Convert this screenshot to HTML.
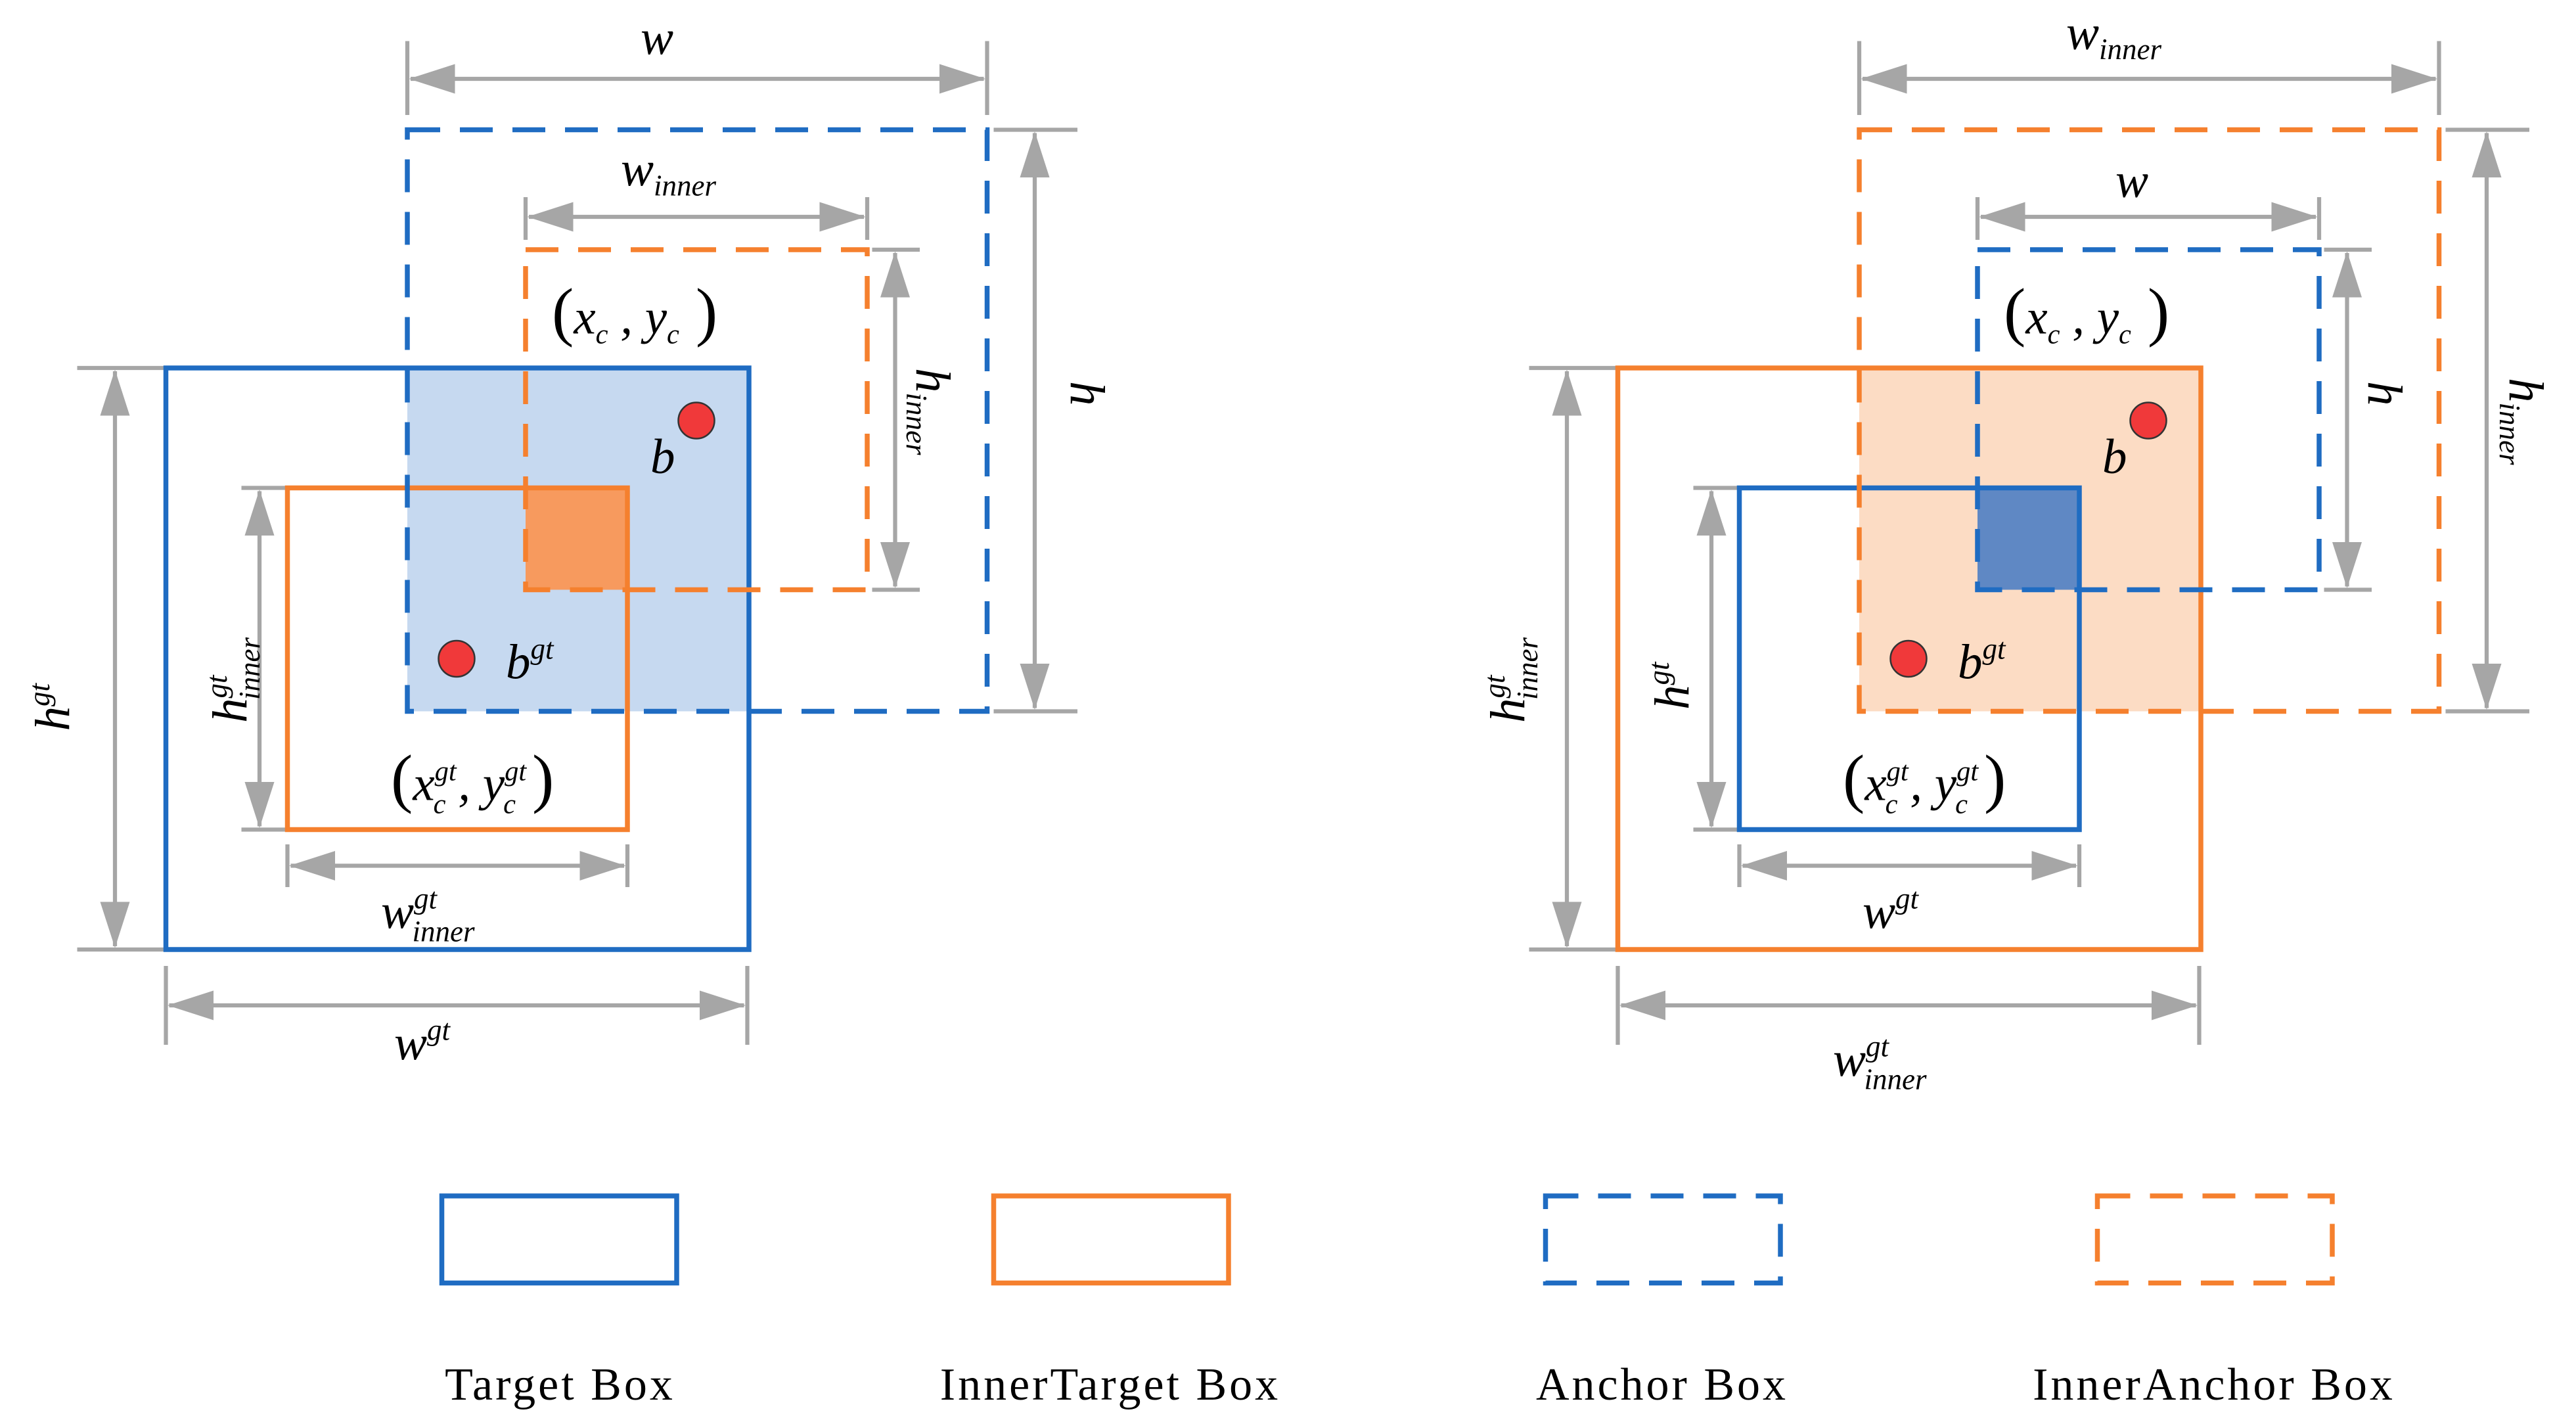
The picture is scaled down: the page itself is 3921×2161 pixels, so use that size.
<!DOCTYPE html>
<html><head><meta charset="utf-8"><style>
html,body{margin:0;padding:0;background:#fff;}
svg{display:block;}
text{font-family:"Liberation Serif",serif;font-style:italic;fill:#000;}
.lg{font-style:normal;font-size:28px;letter-spacing:1.6px;}
</style></head><body>
<svg width="3921" height="2161" viewBox="0 0 1568.4 864.4" xmlns="http://www.w3.org/2000/svg">
<defs>
<marker id="ah" markerUnits="userSpaceOnUse" markerWidth="30" markerHeight="20" refX="27" refY="9" orient="auto-start-reverse"><path d="M0,0 L28,9 L0,18 Z" fill="#a6a6a6"/></marker>
</defs>
<g fill="none" stroke="#a6a6a6" stroke-width="2.5">
<line x1="248" y1="25" x2="248" y2="70"/><line x1="601" y1="25" x2="601" y2="70"/>
<line x1="250" y1="48" x2="599" y2="48" marker-start="url(#ah)" marker-end="url(#ah)"/>
<line x1="320" y1="120" x2="320" y2="146"/><line x1="528" y1="120" x2="528" y2="146"/>
<line x1="322" y1="132" x2="526" y2="132" marker-start="url(#ah)" marker-end="url(#ah)"/>
<line x1="605" y1="79" x2="656" y2="79"/><line x1="605" y1="433" x2="656" y2="433"/>
<line x1="630" y1="81" x2="630" y2="431" marker-start="url(#ah)" marker-end="url(#ah)"/>
<line x1="531" y1="152" x2="560" y2="152"/><line x1="531" y1="359" x2="560" y2="359"/>
<line x1="545" y1="154" x2="545" y2="357" marker-start="url(#ah)" marker-end="url(#ah)"/>
<line x1="47" y1="224" x2="100" y2="224"/><line x1="47" y1="578" x2="100" y2="578"/>
<line x1="70" y1="226" x2="70" y2="576" marker-start="url(#ah)" marker-end="url(#ah)"/>
<line x1="147" y1="297" x2="175" y2="297"/><line x1="147" y1="505" x2="175" y2="505"/>
<line x1="158" y1="299" x2="158" y2="503" marker-start="url(#ah)" marker-end="url(#ah)"/>
<line x1="175" y1="514" x2="175" y2="540"/><line x1="382" y1="514" x2="382" y2="540"/>
<line x1="177" y1="527" x2="380" y2="527" marker-start="url(#ah)" marker-end="url(#ah)"/>
<line x1="101" y1="588" x2="101" y2="636"/><line x1="455" y1="588" x2="455" y2="636"/>
<line x1="103" y1="612" x2="453" y2="612" marker-start="url(#ah)" marker-end="url(#ah)"/>

<line x1="1132" y1="25" x2="1132" y2="70"/><line x1="1485" y1="25" x2="1485" y2="70"/>
<line x1="1134" y1="48" x2="1483" y2="48" marker-start="url(#ah)" marker-end="url(#ah)"/>
<line x1="1204" y1="120" x2="1204" y2="146"/><line x1="1412" y1="120" x2="1412" y2="146"/>
<line x1="1206" y1="132" x2="1410" y2="132" marker-start="url(#ah)" marker-end="url(#ah)"/>
<line x1="1489" y1="79" x2="1540" y2="79"/><line x1="1489" y1="433" x2="1540" y2="433"/>
<line x1="1514" y1="81" x2="1514" y2="431" marker-start="url(#ah)" marker-end="url(#ah)"/>
<line x1="1415" y1="152" x2="1444" y2="152"/><line x1="1415" y1="359" x2="1444" y2="359"/>
<line x1="1429" y1="154" x2="1429" y2="357" marker-start="url(#ah)" marker-end="url(#ah)"/>
<line x1="931" y1="224" x2="984" y2="224"/><line x1="931" y1="578" x2="984" y2="578"/>
<line x1="954" y1="226" x2="954" y2="576" marker-start="url(#ah)" marker-end="url(#ah)"/>
<line x1="1031" y1="297" x2="1059" y2="297"/><line x1="1031" y1="505" x2="1059" y2="505"/>
<line x1="1042" y1="299" x2="1042" y2="503" marker-start="url(#ah)" marker-end="url(#ah)"/>
<line x1="1059" y1="514" x2="1059" y2="540"/><line x1="1266" y1="514" x2="1266" y2="540"/>
<line x1="1061" y1="527" x2="1264" y2="527" marker-start="url(#ah)" marker-end="url(#ah)"/>
<line x1="985" y1="588" x2="985" y2="636"/><line x1="1339" y1="588" x2="1339" y2="636"/>
<line x1="987" y1="612" x2="1337" y2="612" marker-start="url(#ah)" marker-end="url(#ah)"/>
</g>

<rect x="248" y="224" width="208" height="209" fill="#c6d9f0"/>
<rect x="320" y="297" width="62" height="62" fill="#f79a5e"/>
<rect x="101" y="224" width="355" height="354" fill="none" stroke="#1f6cc2" stroke-width="3"/>
<rect x="175" y="297" width="207" height="208" fill="none" stroke="#f5802e" stroke-width="3"/>
<rect x="248" y="79" width="353" height="354" fill="none" stroke="#1f6cc2" stroke-width="3" stroke-dasharray="20 12"/>
<rect x="320" y="152" width="208" height="207" fill="none" stroke="#f5802e" stroke-width="3" stroke-dasharray="20 12"/>
<circle cx="424" cy="256" r="11" fill="#f0393a" stroke="#333" stroke-width="1"/>
<circle cx="278" cy="401" r="11" fill="#f0393a" stroke="#333" stroke-width="1"/>

<rect x="1132" y="224" width="208" height="209" fill="#fcdcc4"/>
<rect x="1204" y="297" width="62" height="62" fill="#5f88c4"/>
<rect x="985" y="224" width="355" height="354" fill="none" stroke="#f5802e" stroke-width="3"/>
<rect x="1059" y="297" width="207" height="208" fill="none" stroke="#1f6cc2" stroke-width="3"/>
<rect x="1132" y="79" width="353" height="354" fill="none" stroke="#f5802e" stroke-width="3" stroke-dasharray="20 12"/>
<rect x="1204" y="152" width="208" height="207" fill="none" stroke="#1f6cc2" stroke-width="3" stroke-dasharray="20 12"/>
<circle cx="1308" cy="256" r="11" fill="#f0393a" stroke="#333" stroke-width="1"/>
<circle cx="1162" cy="401" r="11" fill="#f0393a" stroke="#333" stroke-width="1"/>

<text x="390" y="33" font-size="30">w</text>
<text x="378" y="113" font-size="30">w<tspan font-size="18" dy="6">inner</tspan></text>
<text x="336" y="203" font-size="30"><tspan font-style="normal" font-size="40">(</tspan>x<tspan font-size="17" dy="6">c</tspan><tspan dy="-6"> , y</tspan><tspan font-size="17" dy="6">c</tspan><tspan font-style="normal" font-size="40" dy="-6"> )</tspan></text>
<text x="396" y="288" font-size="30">b</text>
<text x="308" y="413" font-size="30">b<tspan font-size="18" dy="-12">gt</tspan></text>
<text x="238" y="487" font-size="30"><tspan font-style="normal" font-size="40">(</tspan>x<tspan font-size="17" dy="-12">gt</tspan><tspan font-size="17" dx="-14" dy="20">c</tspan><tspan dy="-8"> , y</tspan><tspan font-size="17" dy="-12">gt</tspan><tspan font-size="17" dx="-14" dy="20">c</tspan><tspan font-style="normal" font-size="40" dy="-8"> )</tspan></text>
<text x="232" y="565" font-size="30">w<tspan font-size="18" dy="-12">gt</tspan><tspan font-size="18" dx="-15" dy="20">inner</tspan></text>
<text x="240" y="645" font-size="30">w<tspan font-size="18" dy="-12">gt</tspan></text>
<text transform="translate(652,232) rotate(90)" font-size="30">h</text>
<text transform="translate(558,224) rotate(90)" font-size="30">h<tspan font-size="18" dy="6">inner</tspan></text>
<text transform="translate(42,445) rotate(-90)" font-size="30">h<tspan font-size="18" dy="-12">gt</tspan></text>
<text transform="translate(150,440) rotate(-90)" font-size="30">h<tspan font-size="18" dy="-12">gt</tspan><tspan font-size="18" dx="-15" dy="20">inner</tspan></text>

<text x="1258" y="30" font-size="30">w<tspan font-size="18" dy="6">inner</tspan></text>
<text x="1288" y="120" font-size="30">w</text>
<text x="1220" y="203" font-size="30"><tspan font-style="normal" font-size="40">(</tspan>x<tspan font-size="17" dy="6">c</tspan><tspan dy="-6"> , y</tspan><tspan font-size="17" dy="6">c</tspan><tspan font-style="normal" font-size="40" dy="-6"> )</tspan></text>
<text x="1280" y="288" font-size="30">b</text>
<text x="1192" y="413" font-size="30">b<tspan font-size="18" dy="-12">gt</tspan></text>
<text x="1122" y="487" font-size="30"><tspan font-style="normal" font-size="40">(</tspan>x<tspan font-size="17" dy="-12">gt</tspan><tspan font-size="17" dx="-14" dy="20">c</tspan><tspan dy="-8"> , y</tspan><tspan font-size="17" dy="-12">gt</tspan><tspan font-size="17" dx="-14" dy="20">c</tspan><tspan font-style="normal" font-size="40" dy="-8"> )</tspan></text>
<text x="1134" y="565" font-size="30">w<tspan font-size="18" dy="-12">gt</tspan></text>
<text x="1116" y="655" font-size="30">w<tspan font-size="18" dy="-12">gt</tspan><tspan font-size="18" dx="-15" dy="20">inner</tspan></text>
<text transform="translate(1442,232) rotate(90)" font-size="30">h</text>
<text transform="translate(1528,230) rotate(90)" font-size="30">h<tspan font-size="18" dy="6">inner</tspan></text>
<text transform="translate(928,440) rotate(-90)" font-size="30">h<tspan font-size="18" dy="-12">gt</tspan><tspan font-size="18" dx="-15" dy="20">inner</tspan></text>
<text transform="translate(1028,432) rotate(-90)" font-size="30">h<tspan font-size="18" dy="-12">gt</tspan></text>

<rect x="269" y="728" width="143" height="53" fill="none" stroke="#1f6cc2" stroke-width="3"/>
<rect x="605" y="728" width="143" height="53" fill="none" stroke="#f5802e" stroke-width="3"/>
<rect x="941" y="728" width="143" height="53" fill="none" stroke="#1f6cc2" stroke-width="3" stroke-dasharray="20 12"/>
<rect x="1277" y="728" width="143" height="53" fill="none" stroke="#f5802e" stroke-width="3" stroke-dasharray="20 12"/>
<text class="lg" x="341" y="852" text-anchor="middle">Target  Box</text>
<text class="lg" x="676" y="852" text-anchor="middle">InnerTarget  Box</text>
<text class="lg" x="1012" y="852" text-anchor="middle">Anchor  Box</text>
<text class="lg" x="1348" y="852" text-anchor="middle">InnerAnchor  Box</text>
</svg>
</body></html>
